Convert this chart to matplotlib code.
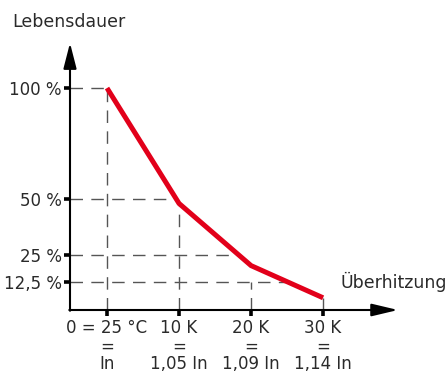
import matplotlib
matplotlib.use('Agg')
import matplotlib.pyplot as plt
import numpy as np

# Lebensdauer in Abhaengigkeit der Ueberhitzung
ueberhitzung = [0, 10, 20, 30]          # K
lebensdauer = [100, 48, 20, 5.5]        # %

x_ticks = [0, 10, 20, 30]
x_labels = ['0 = 25 °C\n=\nIn', '10 K\n=\n1,05 In', '20 K\n=\n1,09 In', '30 K\n=\n1,14 In']
y_ticks = [12.5, 25, 50, 100]
y_labels = ['12,5 %', '25 %', '50 %', '100 %']

plt.rcParams['font.family'] = 'DejaVu Sans'
plt.rcParams['lines.scale_dashes'] = False

W, H = 447, 374
fig = plt.figure(figsize=(W / 100, H / 100), dpi=100)
ax = fig.add_axes([70 / W, (H - 310) / H, (398 - 70) / W, (310 - 43) / H])
xmin, xmax = -5.14, 40.4
ymin, ymax = 0, 120.3
ax.set_xlim(xmin, xmax)
ax.set_ylim(ymin, ymax)
for s in ax.spines.values():
    s.set_visible(False)

txt = '#2a2a2a'
grey = '#555555'
dash = (9.0, 6.0)

# Hilfslinien (gestrichelt)
xr = ueberhitzung[::-1]
yr = lebensdauer[::-1]
for yt in y_ticks:
    xe = np.interp(yt, yr, xr)
    ax.plot([xmin, xe], [yt, yt], color=grey, lw=1.0, dashes=dash, zorder=1)
ax.plot([0, 0], [0, 100], color=grey, lw=1.0, dashes=dash, zorder=1)
ax.plot([10, 10], [0, 48], color=grey, lw=1.0, dashes=dash, zorder=1)
ax.plot([20, 20], [0, 12.5], color=grey, lw=1.0, dashes=dash, zorder=1)
ax.plot([30, 30], [0, 5.5], color=grey, lw=1.0, dashes=dash, zorder=1)

# Kurve
ax.plot(ueberhitzung, lebensdauer, color='#e2001a', lw=3.6,
        solid_capstyle='butt', solid_joinstyle='miter', zorder=3)

# Achsen mit Pfeilen
ap = dict(arrowstyle='-|>,head_length=0.8,head_width=0.19', color='black',
          lw=1.5, mutation_scale=20, shrinkA=0, shrinkB=0)
ax.annotate('', xy=(xmax, 0), xytext=(xmin - 0.1, 0), arrowprops=ap,
            annotation_clip=False, zorder=4)
ap2 = dict(ap)
ap2['arrowstyle'] = '-|>,head_length=0.78,head_width=0.2'
ax.annotate('', xy=(xmin, ymax), xytext=(xmin, -0.35), arrowprops=ap2,
            annotation_clip=False, zorder=4)

ax.set_xticks(x_ticks)
ax.set_xticklabels(x_labels)
ax.set_yticks(y_ticks)
ax.set_yticklabels(y_labels)
ax.tick_params(axis='both', direction='out', length=4.3, width=2.6,
               color='black', labelsize=12, labelcolor=txt)
ax.tick_params(axis='x', pad=2.5)
ax.tick_params(axis='y', pad=1.5)
for lab in ax.get_xticklabels():
    lab.set_linespacing(1.0)
    lab.set_multialignment('center')

ax.text(-13.2, 127.5, 'Lebensdauer', fontsize=12.5, color=txt,
        ha='left', va='baseline', clip_on=False)
ax.text(32.4, 9.9, 'Überhitzung', fontsize=12.5, color=txt,
        ha='left', va='baseline', clip_on=False)

fig.savefig('out.png', dpi=100)
